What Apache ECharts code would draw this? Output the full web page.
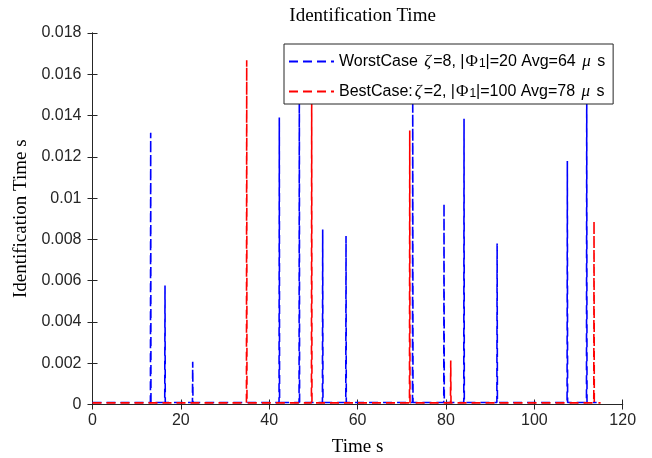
<!DOCTYPE html>
<html>
<head>
<meta charset="utf-8">
<script src="https://cdn.jsdelivr.net/npm/echarts@6/dist/echarts.min.js"></script>
<style>html,body{margin:0;padding:0;background:#fff;}#c{width:652px;height:458px;}</style>
</head>
<body>
<div id="c"></div>
<script>
// ---- data ----
const xTicks = [0, 20, 40, 60, 80, 100, 120];
const yTicks = [0, 0.002, 0.004, 0.006, 0.008, 0.01, 0.012, 0.014, 0.016, 0.018];
const seriesNames = ['WorstCase', 'BestCase'];
const runEnd = 115;
const blueBaseline = 0.0001;
const redBaseline = 0.00008;
const blueSpikeTimes  = [13.17, 16.41, 22.68, 42.28, 46.81, 52.10, 57.38, 72.48, 79.56, 84.09, 91.58, 107.47, 111.86];
const blueSpikeValues = [0.01317, 0.00577, 0.00207, 0.0139, 0.0158, 0.00848, 0.00816, 0.0151, 0.00973, 0.01385, 0.0078, 0.0118, 0.0160];
const redSpikeTimes   = [34.90, 49.61, 71.80, 81.08, 113.51];
const redSpikeValues  = [0.01668, 0.0154, 0.01328, 0.00213, 0.00889];

function buildLine(times, values, base, end) {
  const pts = [[0, base]];
  for (let i = 0; i < times.length; i++) {
    pts.push([times[i] - 0.06, base]);
    pts.push([times[i], values[i]]);
    pts.push([times[i] + 0.06, base]);
  }
  pts.push([end, base]);
  return pts;
}

const axisColor = '#262626';
const chart = echarts.init(document.getElementById('c'), null, {renderer: 'canvas'});

const legendRich = {
  a: {fontFamily: 'Liberation Sans', fontSize: 16, color: '#000'},
  g: {fontFamily: 'Liberation Serif', fontStyle: 'italic', fontSize: 17, color: '#000', padding: [0, 2, 0, 2]},
  p: {fontFamily: 'Liberation Serif', fontSize: 17, color: '#000', padding: [0, 1, 0, 1]},
  s: {fontFamily: 'Liberation Sans', fontSize: 12, color: '#000', verticalAlign: 'bottom', lineHeight: 14, padding: [10, 0, 0, 0]}
};

const option = {
  animation: false,
  backgroundColor: '#fff',
  title: {
    text: 'Identification Time',
    left: 357.6, top: 2, textAlign: 'center',
    textStyle: {fontFamily: 'Liberation Serif', fontSize: 19, fontWeight: 'normal', color: '#000'}
  },
  grid: {left: 92.5, right: 29.3, top: 33, bottom: 53.5, containLabel: false, outerBoundsMode: 'none'},
  legend: {
    left: 284, top: 44, width: 331,
    orient: 'vertical',
    backgroundColor: '#fff',
    borderColor: axisColor, borderWidth: 1,
    padding: [4, 8, 4, 4],
    itemWidth: 45, itemHeight: 14, itemGap: 8,
    itemStyle: {opacity: 0},
    data: seriesNames,
    formatter: function (name) {
      if (name === 'WorstCase') {
        return '{a|WorstCase }{g|ζ}{a|=8, |}{p|Φ}{s|1}{a||=20 Avg=64 }{g|μ}{a| s}';
      }
      return '{a|BestCase:}{g|ζ}{a|=2, |}{p|Φ}{s|1}{a||=100 Avg=78 }{g|μ}{a| s}';
    },
    textStyle: {rich: legendRich}
  },
  xAxis: [{
    type: 'value', min: 0, max: 120, interval: 20,
    name: 'Time s', nameLocation: 'middle', nameGap: 33,
    nameTextStyle: {fontFamily: 'Liberation Serif', fontSize: 19, color: '#000'},
    axisLine: {lineStyle: {color: axisColor, width: 1}},
    axisTick: {inside: true, length: 5, lineStyle: {color: axisColor}},
    axisLabel: {fontFamily: 'Liberation Sans', fontSize: 16, color: axisColor, margin: 8},
    splitLine: {show: false}
  }, {
    type: 'value', min: 0, max: 120, interval: 20, position: 'top',
    axisLine: {show: true, lineStyle: {color: axisColor, width: 1}},
    axisTick: {inside: true, length: 5, lineStyle: {color: axisColor}},
    axisLabel: {show: false}, splitLine: {show: false}
  }],
  yAxis: [{
    type: 'value', min: 0, max: 0.018, interval: 0.002,
    name: 'Identification Time s', nameLocation: 'middle', nameGap: 57,
    nameTextStyle: {fontFamily: 'Liberation Serif', fontSize: 19, color: '#000'},
    axisLine: {show: true, lineStyle: {color: axisColor, width: 1}},
    axisTick: {inside: true, length: 5, lineStyle: {color: axisColor}},
    axisLabel: {fontFamily: 'Liberation Sans', fontSize: 16, color: axisColor, margin: 11},
    splitLine: {show: false}
  }, {
    type: 'value', min: 0, max: 0.018, interval: 0.002, position: 'right',
    axisLine: {show: true, lineStyle: {color: axisColor, width: 1}},
    axisTick: {inside: true, length: 5, lineStyle: {color: axisColor}},
    axisLabel: {show: false}, splitLine: {show: false}
  }],
  series: [{
    name: 'WorstCase', type: 'line', symbol: 'none',
    data: buildLine(blueSpikeTimes, blueSpikeValues, blueBaseline, runEnd - 0.9),
    lineStyle: {color: '#0000ff', width: 1.6, type: [9, 5]},
    itemStyle: {color: '#0000ff'}
  }, {
    name: 'BestCase', type: 'line', symbol: 'none',
    data: buildLine(redSpikeTimes, redSpikeValues, redBaseline, runEnd),
    lineStyle: {color: '#ff0000', width: 1.6, type: [9, 5]},
    itemStyle: {color: '#ff0000'}
  }]
};
chart.setOption(option);
</script>
</body>
</html>
